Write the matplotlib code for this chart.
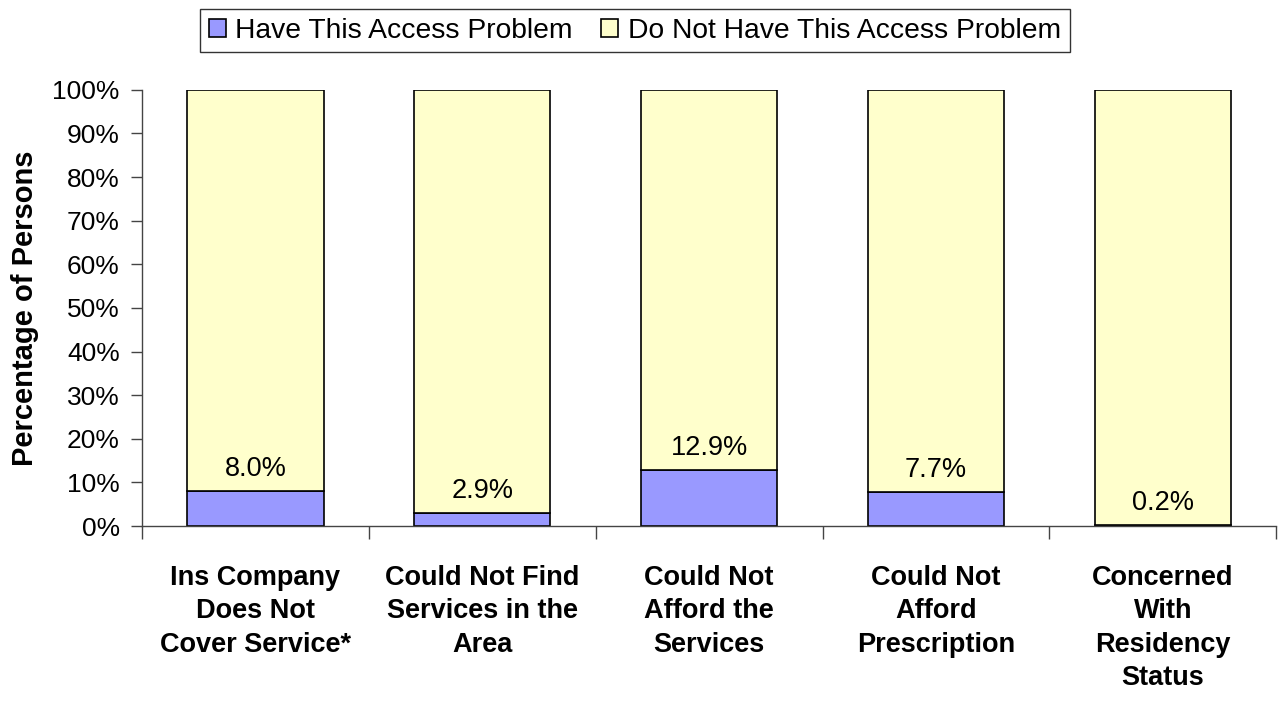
import matplotlib
matplotlib.use("Agg")
import matplotlib.pyplot as plt
from matplotlib.ticker import FixedLocator, NullFormatter

categories = ["Ins Company\nDoes Not\nCover Service*",
              "Could Not Find\nServices in the\nArea",
              "Could Not\nAfford the\nServices",
              "Could Not\nAfford\nPrescription",
              "Concerned\nWith\nResidency\nStatus"]
have = [8.0, 2.9, 12.9, 7.7, 0.2]
not_have = [100 - v for v in have]
yticks = [0, 10, 20, 30, 40, 50, 60, 70, 80, 90, 100]

plt.rcParams['font.family'] = ['Liberation Sans', 'DejaVu Sans']

fig = plt.figure(figsize=(12.8, 7.02), dpi=100)
ax = fig.add_axes([0.111, 0.2507, 0.886, 0.6213])

x = list(range(len(categories)))
b1 = ax.bar(x, have, width=0.6, color='#9999ff', edgecolor='black', linewidth=1.2,
            label='Have This Access Problem')
b2 = ax.bar(x, not_have, width=0.6, bottom=have, color='#ffffcc', edgecolor='black',
            linewidth=1.2, label='Do Not Have This Access Problem')

for xi, v in zip(x, have):
    ax.annotate(f"{v:.1f}%", (xi, v), xytext=(0, 16), textcoords='offset points',
                ha='center', va='center', fontsize=19.5)

ax.set_xlim(-0.5, len(categories) - 0.5)
ax.set_ylim(0, 100)
ax.set_yticks(yticks)
ax.set_yticklabels([f"{t}%" for t in yticks], fontsize=19)
ax.xaxis.set_major_locator(FixedLocator([i - 0.5 for i in range(len(categories) + 1)]))
ax.xaxis.set_major_formatter(NullFormatter())
ax.xaxis.set_minor_locator(FixedLocator(x))
ax.set_xticklabels(categories, minor=True, fontsize=19.5, fontweight='bold', linespacing=1.37,
                   va='top')
ax.tick_params(axis='x', which='minor', length=0, pad=28)
ax.tick_params(axis='x', which='major', direction='out', length=9, width=1, color='#444444')
ax.tick_params(axis='y', direction='out', length=8, width=1, color='#444444', pad=8)

for s in ['top', 'right']:
    ax.spines[s].set_visible(False)
for s in ['left', 'bottom']:
    ax.spines[s].set_color('#444444')
    ax.spines[s].set_linewidth(1)

ax.set_ylabel("Percentage of Persons", fontsize=21, fontweight='bold', labelpad=10)

leg = fig.legend(handles=[b1, b2], loc='center', bbox_to_anchor=(0.496, 0.956), ncol=2,
                 fontsize=20.3, frameon=True, fancybox=False, edgecolor='black',
                 handlelength=0.6, handleheight=0.6, handletextpad=0.35, columnspacing=1.0,
                 borderpad=0.3)
leg.get_frame().set_linewidth(1)

fig.savefig("out.png", dpi=100)
